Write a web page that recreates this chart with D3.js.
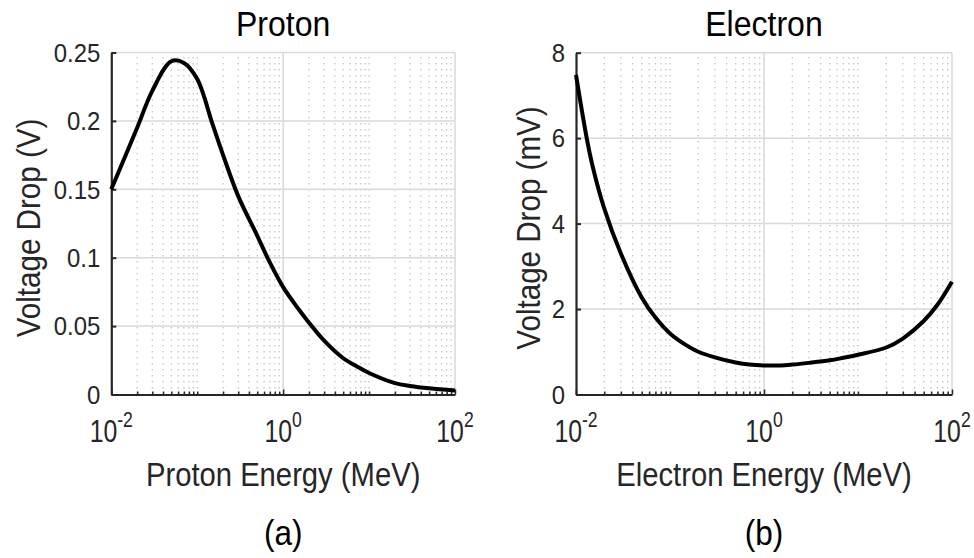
<!DOCTYPE html>
<html>
<head>
<meta charset="utf-8">
<script src="https://cdn.jsdelivr.net/npm/d3@7"></script>
<style>
  body { margin: 0; background: #fff; }
  text { font-family: "Liberation Sans", Arial, Helvetica, sans-serif; }
</style>
</head>
<body>
<svg id="chart" width="974" height="558"></svg>
<script>
// Proton: voltage drop (V) versus energy (MeV)
const protonEnergy  = [0.01, 0.02, 0.03, 0.05, 0.07, 0.1, 0.15, 0.2, 0.3, 0.5, 0.7, 1, 1.5, 2, 3, 5, 7, 10, 20, 30, 50, 100];
const protonVoltage = [0.150, 0.195, 0.222, 0.2436, 0.2424, 0.2306, 0.198, 0.175, 0.145, 0.1160, 0.0965, 0.0785, 0.0627, 0.0525, 0.0393, 0.0265, 0.0210, 0.0157, 0.0083, 0.0062, 0.0045, 0.0030];

// Electron: voltage drop (mV) versus energy (MeV)
const electronEnergy  = [0.01, 0.013, 0.015, 0.02, 0.03, 0.05, 0.07, 0.1, 0.15, 0.2, 0.3, 0.5, 0.7, 1, 1.5, 2, 3, 5, 7, 10, 20, 30, 50, 70, 100];
const electronVoltage = [7.48, 6.0, 5.35, 4.35, 3.3, 2.27, 1.80, 1.43, 1.15, 1.0, 0.87, 0.75, 0.70, 0.68, 0.68, 0.70, 0.74, 0.80, 0.86, 0.93, 1.10, 1.31, 1.72, 2.10, 2.64];

// Axis ticks
const energyTicks   = [0.01, 1, 100];
const energyTickExp = ["-2", "0", "2"];
const protonTicks   = [0, 0.05, 0.1, 0.15, 0.2, 0.25];
const electronTicks = [0, 2, 4, 6, 8];

// Text
const panelTitles = ["Proton", "Electron"];
const xLabels     = ["Proton Energy (MeV)", "Electron Energy (MeV)"];
const yLabels     = ["Voltage Drop (V)", "Voltage Drop (mV)"];
const captions    = ["(a)", "(b)"];

const svg = d3.select("#chart");
const axisColor = "#262626";

// Minor log positions: 2..10 x each decade, except the labelled ones
const minorEnergy = [];
for (let d = -2; d < 2; d++) {
  for (let k = 2; k <= 10; k++) {
    const v = +(k * Math.pow(10, d)).toPrecision(6);
    if (!energyTicks.includes(v)) minorEnergy.push(v);
  }
}

// Text drawn in a slightly condensed face (horizontal squeeze about its anchor)
function addText(parent, x, y, str, size, sx, opts = {}) {
  const t = parent.append("text")
    .attr("transform", `translate(${x},${y}) ${opts.rotate ? "rotate(-90) " : ""}scale(${sx},1)`)
    .attr("text-anchor", opts.anchor || "middle")
    .attr("font-size", size)
    .attr("fill", opts.fill || axisColor);
  if (str !== null) t.text(str);
  return t;
}

function drawPanel(cfg) {
  const x = d3.scaleLog().domain([0.01, 100]).range([cfg.left, cfg.right]);
  const y = d3.scaleLinear().domain(cfg.yDomain).range([cfg.bottom, cfg.top]);
  const g = svg.append("g");

  // Minor vertical grid (dotted)
  g.append("g").selectAll("line").data(minorEnergy).join("line")
    .attr("x1", d => x(d)).attr("x2", d => x(d))
    .attr("y1", cfg.bottom).attr("y2", cfg.top)
    .attr("stroke", "#c4c4c4").attr("stroke-width", 1.3)
    .attr("stroke-dasharray", "1.5,4.5");

  // Major grid (solid)
  g.append("g").selectAll("line").data(cfg.yTicks.filter(d => d !== cfg.yDomain[0])).join("line")
    .attr("x1", cfg.left).attr("x2", cfg.right)
    .attr("y1", d => y(d)).attr("y2", d => y(d))
    .attr("stroke", "#d9d9d9").attr("stroke-width", 1.5);
  g.append("g").selectAll("line").data(energyTicks.slice(1)).join("line")
    .attr("x1", d => x(d)).attr("x2", d => x(d))
    .attr("y1", cfg.bottom).attr("y2", cfg.top)
    .attr("stroke", "#d9d9d9").attr("stroke-width", 1.5);

  // Bottom axis: major and minor ticks pointing inward
  const xAxis = g.append("g").attr("transform", `translate(0,${cfg.bottom})`)
    .call(d3.axisBottom(x).tickValues(energyTicks).tickSize(-5).tickSizeOuter(0).tickFormat(""));
  const xMinor = g.append("g").attr("transform", `translate(0,${cfg.bottom})`)
    .call(d3.axisBottom(x).tickValues(minorEnergy).tickSize(-3).tickSizeOuter(0).tickFormat(""));
  xMinor.select(".domain").remove();
  g.selectAll(".tick line").attr("stroke", axisColor).attr("stroke-width", 1.5);
  xAxis.select(".domain").attr("stroke", axisColor).attr("stroke-width", 2.2);

  // Energy tick labels with superscript exponents
  energyTicks.forEach((d, i) => {
    const t = addText(g, x(d), cfg.bottom + 47, null, 31, 0.8);
    t.append("tspan").text("10");
    t.append("tspan").attr("dy", -15).attr("font-size", 22).text(energyTickExp[i]);
  });

  // Left axis
  const yAxis = g.append("g").attr("transform", `translate(${cfg.left},0)`)
    .call(d3.axisLeft(y).tickValues(cfg.yTicks).tickSize(-5).tickSizeOuter(0).tickFormat(""));
  yAxis.select(".domain").attr("stroke", axisColor).attr("stroke-width", 2.2);
  yAxis.selectAll(".tick line").attr("stroke", axisColor).attr("stroke-width", 2);
  cfg.yTicks.forEach(d => {
    addText(g, cfg.left - 11, y(d) + 9.3, String(d), 26, 0.92, { anchor: "end" });
  });

  // Data curve
  const line = d3.line()
    .x(d => x(d[0])).y(d => y(d[1]))
    .curve(d3.curveCatmullRom.alpha(0.5));
  g.append("path")
    .datum(d3.zip(cfg.energy, cfg.voltage))
    .attr("d", line)
    .attr("fill", "none").attr("stroke", "#000").attr("stroke-width", 4)
    .attr("stroke-linejoin", "round").attr("stroke-linecap", "butt");

  const cx = (cfg.left + cfg.right) / 2;
  addText(g, cx, 36, cfg.title, 36, 0.89, { fill: "#000" });
  addText(g, cx, 486, cfg.xLabel, 34, 0.86);
  addText(g, cfg.yLabelX, 228, cfg.yLabel, 34, 0.87, { rotate: true });
  addText(g, cx, 545, cfg.caption, 35, 0.9, { fill: "#000" });
}

drawPanel({
  left: 111.3, right: 455, top: 52.5, bottom: 394.5,
  yDomain: [0, 0.25], yTicks: protonTicks,
  energy: protonEnergy, voltage: protonVoltage,
  title: panelTitles[0], xLabel: xLabels[0], yLabel: yLabels[0], caption: captions[0],
  yLabelX: 40
});

drawPanel({
  left: 576, right: 952, top: 52.7, bottom: 394.5,
  yDomain: [0, 8], yTicks: electronTicks,
  energy: electronEnergy, voltage: electronVoltage,
  title: panelTitles[1], xLabel: xLabels[1], yLabel: yLabels[1], caption: captions[1],
  yLabelX: 540
});
</script>
</body>
</html>
